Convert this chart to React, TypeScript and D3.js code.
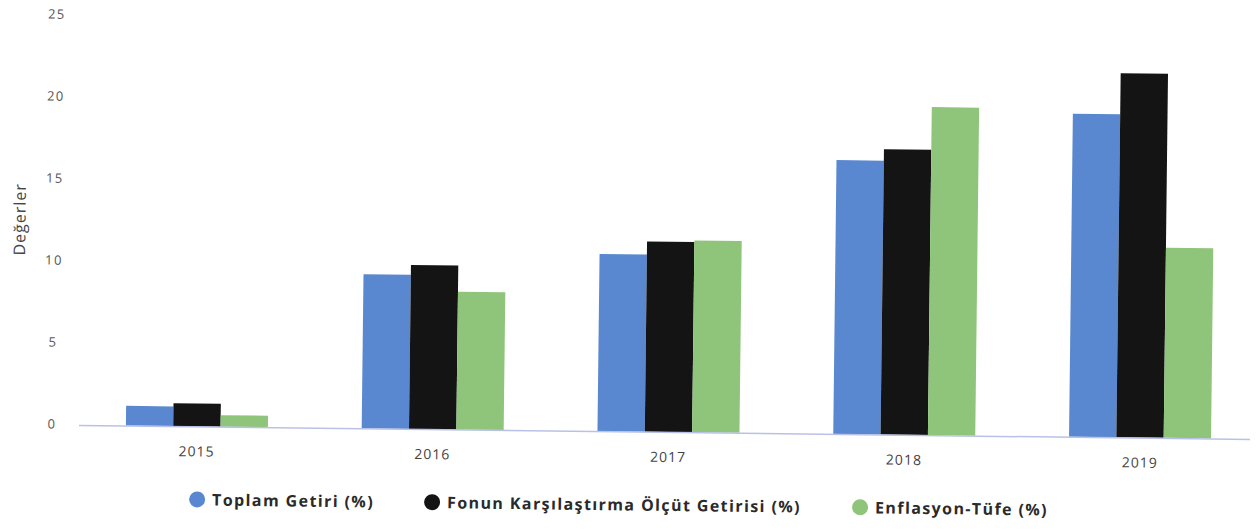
import React, {Component} from "react";
import * as d3 from "d3";

const years = ["2015", "2016", "2017", "2018", "2019"];
const toplamGetiri = [1.2, 9.4, 10.8, 16.7, 19.7];
const olcutGetirisi = [1.4, 10.0, 11.6, 17.4, 22.2];
const enflasyonTufe = [0.7, 8.4, 11.7, 20.0, 11.6];
const yTicks = [0, 5, 10, 15, 20, 25];

const seriesNames = ["Toplam Getiri (%)", "Fonun Karşılaştırma Ölçüt Getirisi (%)", "Enflasyon-Tüfe (%)"];
const seriesColors = ["#5a88d0", "#141414", "#8ec57a"];

class App extends Component
{
    svgRef = React.createRef<SVGSVGElement>();

    drawChart()
    {
        const width = 1258;
        const height = 531;
        const svg = d3.select(this.svgRef.current)
            .attr("width", width)
            .attr("height", height)
            .style("display", "block")
            .style("background", "#fff");

        svg.selectAll("*").remove();

        // the page was scanned a little crooked
        const root = svg.append("g").attr("transform", "rotate(0.68 80 425)");

        const xScale = d3.scaleBand()
            .domain(years)
            .range([79, 1258]);

        const xInner = d3.scaleBand()
            .domain(seriesNames)
            .range([0, 142]);

        const yScale = d3.scaleLinear()
            .domain([0, 25])
            .range([425, 15]);

        // y tick labels
        root.selectAll(".y-tick")
            .data(yTicks)
            .enter()
            .append("text")
            .attr("class", "y-tick")
            .attr("x", 52)
            .attr("y", d => yScale(d) + 4)
            .attr("text-anchor", "middle")
            .attr("font-family", "Open Sans, sans-serif")
            .attr("font-size", 13)
            .attr("letter-spacing", 1.5)
            .attr("fill", "#555")
            .text(d => d);

        root.append("text")
            .attr("transform", `translate(23, 220) rotate(-90)`)
            .attr("text-anchor", "middle")
            .attr("font-family", "Open Sans, sans-serif")
            .attr("font-size", 16)
            .attr("letter-spacing", 1)
            .attr("fill", "#444")
            .text("Değerler");

        // bars
        const table = years.map((year, i) => ({
            year,
            values: [toplamGetiri[i], olcutGetirisi[i], enflasyonTufe[i]]
        }));

        const groups = root.selectAll(".group")
            .data(table)
            .enter()
            .append("g")
            .attr("class", "group")
            .attr("transform", d => `translate(${xScale(d.year) + (xScale.bandwidth() - 142) / 2}, 0)`);

        groups.selectAll("rect")
            .data(d => d.values.map((v, j) => ({v, name: seriesNames[j], color: seriesColors[j]})))
            .enter()
            .append("rect")
            .attr("x", d => xInner(d.name))
            .attr("y", d => yScale(d.v))
            .attr("width", xInner.bandwidth())
            .attr("height", d => yScale(0) - yScale(d.v))
            .attr("fill", d => d.color);

        // baseline
        root.append("line")
            .attr("x1", 79)
            .attr("x2", 1270)
            .attr("y1", yScale(0) + 0.5)
            .attr("y2", yScale(0) + 0.5)
            .attr("stroke", "#b9c2e6")
            .attr("stroke-width", 1.5);

        // x labels
        root.selectAll(".x-label")
            .data(years)
            .enter()
            .append("text")
            .attr("class", "x-label")
            .attr("x", d => xScale(d) + xScale.bandwidth() / 2)
            .attr("y", 455)
            .attr("text-anchor", "middle")
            .attr("font-family", "Open Sans, sans-serif")
            .attr("font-size", 14)
            .attr("letter-spacing", 1)
            .attr("fill", "#444")
            .text(d => d);

        // legend
        const legendX = [198, 433, 861];
        const legend = root.selectAll(".legend")
            .data(seriesNames)
            .enter()
            .append("g")
            .attr("class", "legend")
            .attr("transform", (d, i) => `translate(${legendX[i]}, 498)`);

        legend.append("circle")
            .attr("r", 8)
            .attr("fill", (d, i) => seriesColors[i]);

        legend.append("text")
            .attr("x", 15)
            .attr("y", 6)
            .attr("font-family", "Open Sans, sans-serif")
            .attr("font-size", 16)
            .attr("font-weight", "bold")
            .attr("letter-spacing", 1.4)
            .attr("fill", "#2a2a2a")
            .text(d => d);

        // menu button corner
        svg.append("rect")
            .attr("x", 1233)
            .attr("y", 0)
            .attr("width", 25)
            .attr("height", 4)
            .attr("fill", "#333");
    }

    componentDidMount()
    {
        this.drawChart();
    }

    render()
    {
        return (
            <div style={{margin: -8}}>
                <svg ref={this.svgRef}></svg>
            </div>
        );
    }
}

export default App;
